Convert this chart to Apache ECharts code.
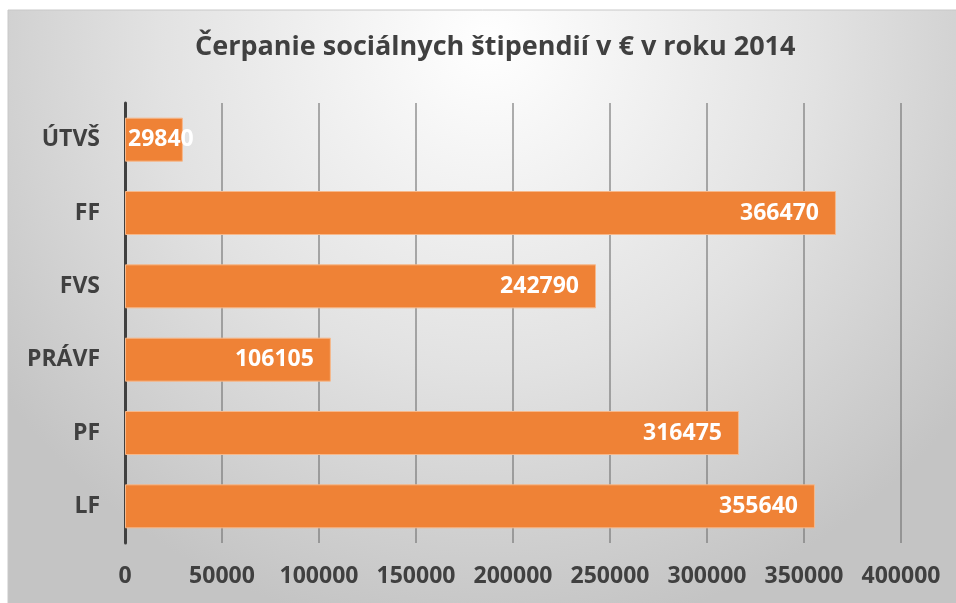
<!DOCTYPE html>
<html>
<head>
<meta charset="utf-8">
<title>Čerpanie sociálnych štipendií</title>
<script src="https://cdn.jsdelivr.net/npm/echarts@6/dist/echarts.min.js"></script>
<style>
  html, body { margin: 0; padding: 0; background: #fff; }
  #chart { width: 956px; height: 603px; }
</style>
</head>
<body>
<div id="chart"></div>
<script>
    // údaje, zdola nahor ako ich kreslí kategóriová os
    var fakulty = ['LF', 'PF', 'PRÁVF', 'FVS', 'FF', 'ÚTVŠ'];
    var cerpanie = [355640, 316475, 106105, 242790, 366470, 29840];
    var osX = [0, 50000, 100000, 150000, 200000, 250000, 300000, 350000, 400000];

    var font = '"Open Sans", "Noto Sans", sans-serif';
    var myChart = echarts.init(document.getElementById('chart'));

    var data = cerpanie.map(function (v) {
        // malý stĺpec - popis začína pri osi
        if (v < 50000) {
            return {value: v, label: {position: 'insideLeft', distance: 3}};
        }
        return v;
    });

    myChart.setOption({
        animation: false,
        textStyle: {fontFamily: font},
        graphic: [{
            type: 'rect',
            z: -10,
            shape: {x: 8, y: 10, width: 960, height: 600},
            style: {
                fill: new echarts.graphic.RadialGradient(0.5, 0.05, 1.0, [
                    {offset: 0, color: '#ffffff'},
                    {offset: 0.55, color: '#e2e2e2'},
                    {offset: 1, color: '#c4c4c4'}
                ]),
                stroke: '#c8c8c8',
                lineWidth: 1
            }
        }],
        title: {
            text: 'Čerpanie sociálnych štipendií v € v roku 2014',
            left: 190,
            top: 29,
            textStyle: {
                fontFamily: font,
                fontSize: 27,
                fontWeight: 'bold',
                color: '#404040'
            }
        },
        grid: {
            left: 125,
            right: 55,
            top: 103,
            bottom: 60
        },
        xAxis: {
            type: 'value',
            min: osX[0],
            max: osX[osX.length - 1],
            interval: 50000,
            axisLine: {show: false},
            axisTick: {show: false},
            splitLine: {
                lineStyle: {color: 'rgba(110,110,110,0.55)', width: 2}
            },
            axisLabel: {
                margin: 22,
                fontSize: 23,
                fontWeight: 'bold',
                color: '#404040',
                formatter: function (v) { return String(v); }
            }
        },
        yAxis: {
            type: 'category',
            data: fakulty,
            axisLine: {
                show: true,
                lineStyle: {color: '#404040', width: 3}
            },
            axisTick: {show: false},
            axisLabel: {
                margin: 25,
                fontSize: 23,
                fontWeight: 'bold',
                color: '#404040'
            }
        },
        series: [{
            name: 'Čerpanie',
            type: 'bar',
            data: data,
            barCategoryGap: '40%',
            itemStyle: {
                color: '#ef8236',
                borderColor: '#f7b88a',
                borderWidth: 1
            },
            label: {
                show: true,
                position: 'insideRight',
                distance: 17,
                fontFamily: font,
                fontSize: 23,
                fontWeight: 'bold',
                color: '#ffffff'
            }
        }]
    });
</script>
</body>
</html>
